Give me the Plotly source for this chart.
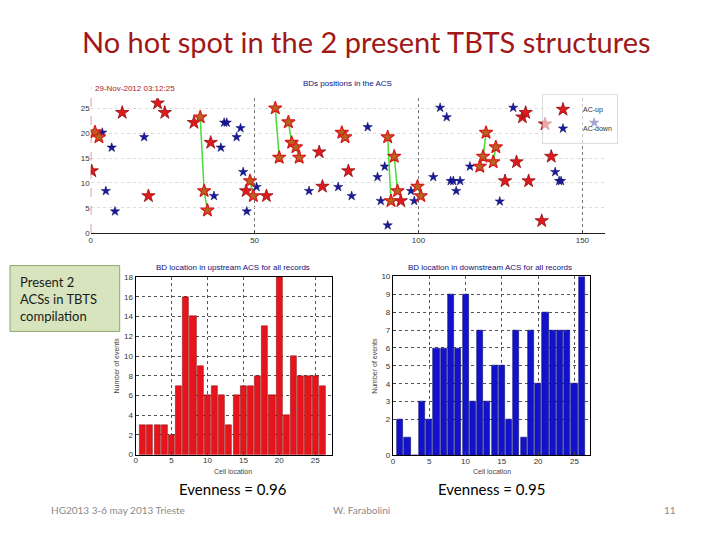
import plotly.graph_objects as go

W, H = 720, 540

# ---------------- data ----------------
# BD positions (record index vs cell) - AC-up (red, unlinked)
up_x = [0.3, 9.6, 17.6, 20.4, 22.6, 31.5, 36.6, 47.4, 53.6, 69.7, 70.7, 78.6,
        94.6, 126.4, 129.9, 131.7, 132.7, 133.6, 137.6, 138.6, 140.5]
up_y = [12.4, 24.1, 7.4, 26.0, 24.1, 22.1, 18.1, 8.4, 7.4, 16.2, 9.3, 12.4,
        6.4, 10.4, 14.2, 23.2, 24.1, 10.4, 2.4, 21.8, 15.3]
# AC-up linked sequences (green lines)
linked_x = [[1.3, 2.5], [33.4, 34.6, 35.6], [48.6, 49.6], [56.3, 57.5],
            [60.3, 61.3, 62.6, 63.6], [76.6, 77.6], [90.6, 91.6], [92.6, 93.6],
            [99.7, 100.7], [118.7, 119.7, 120.6], [122.8, 123.6]]
linked_y = [[20.2, 19.2], [23.2, 8.4, 4.5], [10.4, 7.4], [25.0, 15.1],
            [22.2, 18.1, 17.2, 15.1], [20.1, 19.2], [19.2, 6.4], [15.3, 8.4],
            [9.3, 7.4], [13.3, 15.3, 20.1], [14.2, 17.2]]
# AC-down (blue)
down_x = [3.5, 4.6, 6.4, 7.4, 16.3, 37.6, 39.7, 40.7, 41.5, 44.5, 45.7, 46.5,
          47.6, 50.6, 66.6, 75.5, 79.6, 84.5, 87.5, 88.5, 89.7, 90.6, 97.7,
          98.7, 104.5, 106.6, 108.6, 109.8, 110.6, 111.5, 112.7, 115.7, 124.8,
          128.9, 141.7, 142.9, 143.5, 153.6]
down_y = [20.1, 8.4, 17.1, 4.3, 19.2, 7.4, 17.1, 22.1, 22.1, 19.2, 21.0, 12.2,
          4.3, 9.2, 8.4, 9.2, 7.4, 21.2, 11.2, 6.4, 13.3, 1.5, 8.4,
          6.4, 11.2, 25.1, 23.2, 10.4, 10.4, 8.4, 10.4, 13.3, 6.3,
          25.1, 12.2, 10.4, 10.4, 22.1]

# Histograms
cells = list(range(1, 27))
upstream_counts = [3, 3, 3, 3, 2, 7, 16, 14, 9, 6, 7, 6, 3, 6, 7, 7, 8, 13,
                   6, 18, 4, 10, 8, 8, 8, 7]
downstream_counts = [2, 1, 0, 3, 2, 6, 6, 9, 6, 9, 3, 7, 3, 5, 5, 2, 7, 1,
                     7, 4, 8, 7, 7, 7, 4, 10]

scatter_xticks = [0, 50, 100, 150]
scatter_yticks = [0, 5, 10, 15, 20, 25]
up_yticks = [0, 2, 4, 6, 8, 10, 12, 14, 16, 18]
down_yticks = [0, 2, 3, 4, 5, 6, 7, 8, 9, 10]
hist_xticks = [0, 5, 10, 15, 20, 25]

# ---------------- helpers ----------------
def px(x):
    return x / W

def py(y):
    return 1 - y / H

TICKFONT = dict(family="Liberation Sans, Arial", size=8, color="#333333")
NAVY = "#10107A"

fig = go.Figure()

# ---- scatter: BD positions ----
fig.add_trace(go.Scatter(
    x=up_x, y=up_y, mode="markers", name="AC-up",
    marker=dict(symbol="star", size=10, color="#E0191E",
                line=dict(color="#8B1010", width=0.8)),
    xaxis="x", yaxis="y", showlegend=True))
fig.add_trace(go.Scatter(
    x=down_x, y=down_y, mode="markers", name="AC-down",
    marker=dict(symbol="star", size=7, color="#1A1A9E",
                line=dict(color="#0A0A60", width=0.5)),
    xaxis="x", yaxis="y", showlegend=True))
for gx, gy in zip(linked_x, linked_y):
    fig.add_trace(go.Scatter(
        x=gx, y=gy, mode="lines+markers",
        line=dict(color="#44DD33", width=1.5),
        marker=dict(symbol="star", size=10, color="#B5651D",
                    line=dict(color="#D81A1A", width=1.2)),
        xaxis="x", yaxis="y", showlegend=False))

# ---- histograms ----
fig.add_trace(go.Bar(
    x=cells, y=upstream_counts, width=0.85,
    marker=dict(color="#E8141B", line=dict(color="#7A0A0A", width=0.5)),
    xaxis="x2", yaxis="y2", showlegend=False))
fig.add_trace(go.Bar(
    x=cells, y=downstream_counts, width=0.85,
    marker=dict(color="#1212CC", line=dict(color="#05055A", width=0.5)),
    xaxis="x3", yaxis="y3", showlegend=False))

grid = dict(showgrid=True, gridcolor="#555555", griddash="dot", gridwidth=1)

fig.update_layout(
    width=W, height=H,
    margin=dict(l=0, r=0, t=0, b=0),
    paper_bgcolor="white", plot_bgcolor="white",
    bargap=0,
    xaxis=dict(domain=[px(89), px(605)], range=[0, 157], tickvals=scatter_xticks,
               tickfont=TICKFONT, ticks="inside", ticklen=3, showline=True,
               linecolor="#222222", linewidth=1, zeroline=False,
               showgrid=True, gridcolor="#777777", griddash="dot", gridwidth=1),
    yaxis=dict(domain=[py(232.7), py(95.8)], range=[0, 27], tickvals=scatter_yticks,
               tickfont=TICKFONT, ticks="", showline=False, zeroline=False,
               showgrid=True, gridcolor="#DDDDDD", griddash="dot", gridwidth=1),
    xaxis2=dict(domain=[px(134), px(330.7)], range=[0, 27.3], tickvals=hist_xticks,
                tickfont=TICKFONT, ticks="inside", ticklen=3, showline=True,
                mirror=True, linecolor="black", linewidth=1, zeroline=False,
                anchor="y2", ticklabelstandoff=-2, **grid),
    yaxis2=dict(domain=[py(458.3), py(277.7)], range=[0, 18], tickvals=up_yticks,
                tickfont=TICKFONT, ticks="inside", ticklen=3, showline=True,
                mirror=True, linecolor="black", linewidth=1, zeroline=False,
                anchor="x2", **grid),
    xaxis3=dict(domain=[px(392), px(590)], range=[0, 27.2], tickvals=hist_xticks,
                tickfont=TICKFONT, ticks="inside", ticklen=3, showline=True,
                mirror=True, linecolor="black", linewidth=1, zeroline=False,
                anchor="y3", ticklabelstandoff=-2, **grid),
    yaxis3=dict(domain=[py(459), py(277)], range=[0, 10], tickvals=down_yticks,
                tickfont=TICKFONT, ticks="inside", ticklen=3, showline=True,
                mirror=True, linecolor="black", linewidth=1, zeroline=False,
                anchor="x3", **grid),
    legend=dict(x=px(542), y=py(92), xanchor="left", yanchor="top",
                bgcolor="rgba(255,255,255,0.6)", bordercolor="#BBBBBB", borderwidth=0.5,
                font=dict(family="Liberation Sans, Arial", size=7, color="#333333"),
                itemsizing="trace", tracegroupgap=0, itemwidth=30),
)

# dashed red line at x=0 for the scatter
fig.add_shape(type="line", xref="x", yref="y domain", x0=0, x1=0, y0=0, y1=1.08,
              line=dict(color="#B22222", width=1, dash="dash"))

# green text box
fig.add_shape(type="rect", xref="paper", yref="paper",
              x0=px(8), x1=px(118), y0=py(333), y1=py(266),
              fillcolor="#D7E4BD", line=dict(color="#8FA870", width=1), layer="below")

ann = []
ann.append(dict(text="No hot spot in the 2 present TBTS structures", x=px(366), y=py(38),
                font=dict(family="Lato, Open Sans", size=29, color="#A01818")))
ann.append(dict(text="29-Nov-2012 03:12:25", x=px(133), y=py(86),
                font=dict(family="Liberation Sans, Arial", size=8, color="#B02020")))
ann.append(dict(text="BDs positions in the ACS", x=px(346), y=py(81),
                font=dict(family="Liberation Sans, Arial", size=8, color=NAVY)))
ann.append(dict(text="BD location in upstream ACS for all records", x=px(232), y=py(268),
                font=dict(family="Liberation Sans, Arial", size=8, color=NAVY)))
ann.append(dict(text="BD location in downstream ACS for all records", x=px(489), y=py(268),
                font=dict(family="Liberation Sans, Arial", size=8, color=NAVY)))
ann.append(dict(text="Cell location", x=px(232), y=py(475),
                font=dict(family="Liberation Sans, Arial", size=7, color="#444444")))
ann.append(dict(text="Cell location", x=px(491), y=py(475),
                font=dict(family="Liberation Sans, Arial", size=7, color="#444444")))
ann.append(dict(text="Number of events", x=px(115), y=py(368), textangle=-90,
                font=dict(family="Liberation Sans, Arial", size=7, color="#444444")))
ann.append(dict(text="Number of events", x=px(374), y=py(368), textangle=-90,
                font=dict(family="Liberation Sans, Arial", size=7, color="#444444")))
ann.append(dict(text="Present 2<br>ACSs in TBTS<br>compilation", x=px(16), y=py(300),
                xanchor="left", align="left",
                font=dict(family="Lato, Open Sans", size=13, color="#1A1A1A")))
ann.append(dict(text="Evenness = 0.96", x=px(232), y=py(493),
                font=dict(family="Lato, Open Sans", size=15, color="black")))
ann.append(dict(text="Evenness = 0.95", x=px(491), y=py(493),
                font=dict(family="Lato, Open Sans", size=15, color="black")))
ann.append(dict(text="HG2013 3-6 may 2013 Trieste", x=px(116), y=py(515),
                font=dict(family="Lato, Open Sans", size=10, color="#8A8A8A")))
ann.append(dict(text="W. Farabolini", x=px(360), y=py(515),
                font=dict(family="Lato, Open Sans", size=10, color="#8A8A8A")))
ann.append(dict(text="11", x=px(670), y=py(515),
                font=dict(family="Lato, Open Sans", size=10, color="#8A8A8A")))
for a in ann:
    a.setdefault("xref", "paper")
    a.setdefault("yref", "paper")
    a.setdefault("showarrow", False)
    a.setdefault("xanchor", "center")
    a.setdefault("yanchor", "middle")
    fig.add_annotation(**a)

fig.write_html("out.html", config={"displayModeBar": False},
               post_script="document.body.style.margin='0px';")
